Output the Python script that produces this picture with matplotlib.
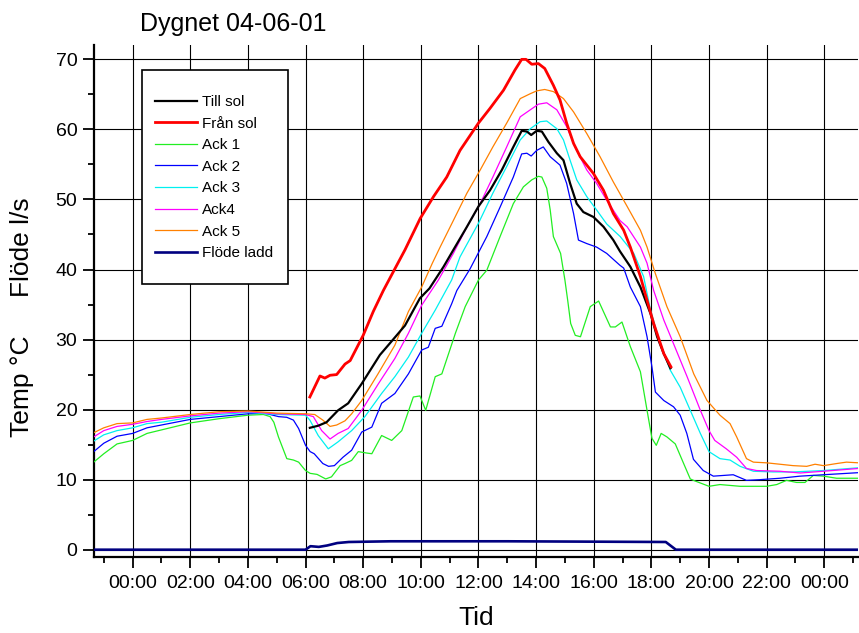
import matplotlib
matplotlib.use("Agg")
import matplotlib.pyplot as plt
from matplotlib.ticker import FixedLocator, MultipleLocator
from matplotlib.patches import Rectangle

plt.rcParams['font.family'] = ['Liberation Sans', 'DejaVu Sans']

# ---------------- data (hours from midnight, values) ----------------
till_t = [6.15, 6.44, 6.73, 7.13, 7.48, 7.95, 8.58, 9.1, 9.45, 9.97, 10.3, 10.79, 11.13,
          11.6, 12.0, 12.4, 12.81, 13.21, 13.5, 13.68, 13.83, 14.02, 14.2, 14.43, 14.72,
          14.95, 15.18, 15.41, 15.64, 15.99, 16.34, 16.68, 16.91, 17.27, 17.62, 17.97,
          18.2, 18.43, 18.66]
till_v = [17.4, 17.7, 18.2, 19.9, 20.9, 23.7, 27.8, 30.3, 32.0, 35.9, 37.3, 40.4, 42.8,
          46.1, 49.0, 51.3, 54.2, 57.5, 59.8, 59.7, 59.2, 59.8, 59.7, 58.2, 56.6,
          55.6, 52.3, 49.4, 48.2, 47.5, 46.1, 44.2, 42.6, 40.4, 37.5, 33.7,
          30.4, 28.0, 25.9]

fran_t = [6.15, 6.5, 6.67, 6.85, 7.08, 7.37, 7.55, 7.7, 8.0, 8.35, 8.7, 9.1, 9.45, 9.98,
          10.44, 10.9, 11.36, 12.0, 12.4, 12.87, 13.27, 13.5, 13.65, 13.85, 14.08, 14.3,
          14.6, 14.83, 15.06, 15.3, 15.53, 15.99, 16.34, 16.68, 17.04, 17.27, 17.62,
          17.85, 18.08, 18.43, 18.68]
fran_v = [21.8, 24.8, 24.5, 24.9, 25.0, 26.5, 27.0, 28.2, 30.6, 34.0, 37.0, 40.1, 42.8, 47.3,
          50.4, 53.2, 57.0, 60.9, 63.0, 65.6, 68.5, 70.0, 70.0, 69.3, 69.4, 68.7,
          66.3, 64.2, 60.9, 58.0, 56.1, 53.7, 51.3, 48.0, 45.6, 43.2, 39.0,
          35.6, 32.3, 28.0, 26.1]

ack1_t = [-1.35, -1.0, -0.54, 0, 0.5, 1, 2, 3, 4, 4.54, 4.77, 4.9, 5.06, 5.35, 5.58, 5.76,
          6.0, 6.16, 6.4, 6.7, 6.9, 7.2, 7.37, 7.6, 7.83, 8.12, 8.3, 8.64, 8.99, 9.34, 9.74,
          9.97, 10.17, 10.5, 10.73, 11.2, 11.54, 12.0, 12.29, 12.75, 13.21, 13.56, 13.85,
          14.08, 14.2, 14.37, 14.49, 14.6, 14.85, 15.0, 15.1, 15.2, 15.36, 15.54, 15.88,
          16.17, 16.58, 16.75, 16.98, 17.27, 17.62, 17.85, 18.02, 18.17, 18.34, 18.54,
          18.83, 19.12, 19.35, 19.46, 20.0, 20.38, 21.08, 22.0, 22.35, 22.69, 23.04, 23.33,
          23.62, 23.97, 24.43, 25.2]
ack1_v = [12.5, 13.7, 15.1, 15.6, 16.6, 17.1, 18.1, 18.7, 19.2, 19.3, 19.0, 18.2, 16.1, 13.0,
          12.8, 12.5, 11.3, 10.9, 10.75, 10.1, 10.4, 12.0, 12.3, 12.75, 14.0, 13.8, 13.7,
          16.3, 15.6, 17.0, 21.8, 21.95, 19.9, 24.7, 25.1, 30.9, 34.7, 38.5, 39.9, 44.7,
          49.4, 51.8, 52.8, 53.3, 53.2, 51.6, 48.5, 44.7, 42.3, 38.5, 35.5, 32.3, 30.6,
          30.4, 34.7, 35.5, 31.8, 31.8, 32.5, 29.0, 25.4, 19.9, 15.9, 14.9, 16.6, 16.1,
          15.1, 12.3, 10.1, 9.9, 9.05, 9.3, 9.05, 9.05, 9.3, 9.9, 9.6, 9.6,
          10.6, 10.5, 10.2, 10.2]

ack2_t = [-1.35, -1.0, -0.54, 0, 0.5, 1, 2, 3, 4, 4.54, 4.77, 5.06, 5.35, 5.58, 5.76, 6.0,
          6.16, 6.3, 6.6, 6.8, 7.0, 7.3, 7.6, 7.95, 8.3, 8.64, 9.1, 9.57, 10.03, 10.26,
          10.5, 10.73, 11.07, 11.25, 11.71, 12.29, 12.75, 13.21, 13.5, 13.68, 13.83, 14.02,
          14.25, 14.49, 14.83, 15.06, 15.3, 15.47, 15.76, 16.1, 16.45, 16.91, 17.04, 17.27,
          17.62, 17.85, 18.02, 18.14, 18.43, 18.77, 19.0, 19.23, 19.46, 19.8, 20.15, 20.5,
          20.84, 21.3, 21.77, 22.46, 23.16, 23.97, 25.2]
ack2_v = [14.0, 15.2, 16.2, 16.6, 17.4, 17.8, 18.6, 19.0, 19.4, 19.5, 19.3, 19.0, 18.9, 18.5,
          17.3, 14.9, 14.0, 13.7, 12.3, 11.9, 12.0, 13.2, 14.2, 16.8, 17.5, 20.9, 22.3,
          25.1, 28.5, 28.9, 31.6, 31.9, 35.1, 37.0, 40.1, 44.7, 48.9, 53.2, 56.5, 56.6,
          56.2, 57.0, 57.5, 56.1, 54.9, 52.3, 48.0, 44.2, 43.7, 43.2, 42.3, 40.6, 40.2,
          37.5, 34.7, 30.4, 26.1, 22.5, 21.3, 20.4, 19.2, 16.6, 12.9, 11.3, 10.5, 10.6,
          10.7, 9.9, 10.0, 10.2, 10.5, 10.7, 11.0]

ack3_t = [-1.35, -1.0, -0.54, 0, 0.5, 1, 2, 3, 4, 5, 6.0, 6.15, 6.44, 6.79, 7.13, 7.6, 8.06,
          8.64, 9.1, 9.57, 10.03, 10.5, 11.07, 11.36, 12.0, 12.5, 12.98, 13.45, 13.8, 14.14,
          14.37, 14.72, 14.95, 15.18, 15.41, 15.76, 16.1, 16.45, 16.92, 17.39, 17.73, 17.97,
          18.31, 18.66, 19.0, 19.35, 19.7, 20.0, 20.38, 20.73, 21.08, 21.54, 22.23, 22.92,
          23.97, 25.2]
ack3_v = [15.5, 16.4, 17.0, 17.4, 18.0, 18.2, 18.9, 19.3, 19.6, 19.3, 19.2, 18.5, 16.3, 14.4,
          15.4, 17.0, 19.0, 22.3, 24.7, 27.5, 30.9, 34.2, 38.5, 41.8, 46.6, 50.9, 54.7,
          58.5, 60.1, 61.1, 61.2, 60.1, 58.5, 55.6, 52.8, 50.4, 48.5, 46.5, 44.7, 42.3,
          39.0, 34.2, 29.4, 25.6, 23.2, 19.9, 16.6, 14.0, 13.0, 12.8, 11.9, 11.2, 11.1,
          11.1, 11.3, 11.7]

ack4_t = [-1.35, -1.0, -0.54, 0, 0.5, 1, 2, 3, 4, 5, 6.0, 6.27, 6.56, 6.85, 7.13, 7.48, 7.95,
          8.53, 9.1, 9.57, 10.03, 10.61, 11.13, 11.6, 12.06, 12.5, 12.98, 13.45, 13.8, 14.08,
          14.37, 14.72, 15.06, 15.41, 15.76, 16.1, 16.45, 16.91, 17.16, 17.62, 17.85, 18.08,
          18.43, 18.77, 19.24, 19.7, 20.0, 20.2, 20.6, 20.96, 21.3, 21.65, 22.46, 23.16,
          23.97, 25.2]
ack4_v = [16.1, 17.0, 17.6, 17.9, 18.3, 18.6, 19.1, 19.5, 19.7, 19.4, 19.3, 19.0, 17.0, 15.8,
          16.6, 17.3, 19.9, 23.7, 27.3, 30.9, 34.9, 38.5, 42.3, 46.1, 49.4, 53.2, 57.5,
          61.8, 62.8, 63.6, 63.8, 62.8, 60.4, 57.0, 54.2, 52.3, 49.9, 47.0, 46.1, 43.2,
          40.9, 37.0, 32.8, 29.4, 24.7, 19.9, 17.0, 15.6, 14.4, 13.2, 11.6, 11.3, 11.2,
          10.95, 11.2, 11.6]

ack5_t = [-1.35, -1.0, -0.54, 0, 0.5, 1, 2, 3, 4, 5, 6.0, 6.32, 6.6, 6.85, 7.08, 7.37, 7.6,
          7.95, 8.5, 9.1, 9.57, 10.03, 10.4, 10.67, 11.13, 11.6, 12.06, 12.5, 12.98, 13.45,
          13.8, 14.02, 14.3, 14.6, 14.95, 15.3, 15.76, 16.22, 16.68, 17.16, 17.62, 17.85,
          18.14, 18.54, 19.0, 19.47, 19.93, 20.38, 20.73, 20.96, 21.3, 21.54, 22.0, 22.46,
          22.92, 23.39, 23.68, 23.97, 24.43, 24.77, 25.2]
ack5_v = [16.7, 17.4, 18.0, 18.1, 18.6, 18.8, 19.3, 19.7, 19.8, 19.5, 19.4, 19.3, 18.5, 17.6,
          17.8, 18.4, 19.4, 21.3, 25.0, 29.2, 34.0, 37.5, 40.9, 43.2, 47.0, 50.9, 54.2,
          57.5, 60.9, 64.4, 65.1, 65.5, 65.7, 65.4, 64.4, 62.5, 59.4, 56.1, 52.5, 49.0,
          45.6, 43.2, 39.4, 34.7, 30.4, 25.1, 21.3, 19.2, 18.0, 16.1, 13.0, 12.5, 12.4,
          12.2, 12.0, 11.9, 12.2, 12.0, 12.3, 12.5, 12.4]

flode_t = [-1.35, 6.0, 6.17, 6.46, 6.75, 7.1, 7.5, 8.95, 13.0, 18.5, 18.85, 25.2]
flode_v = [0, 0, 0.5, 0.4, 0.6, 0.95, 1.1, 1.2, 1.2, 1.1, 0, 0]

x_ticks = [0, 2, 4, 6, 8, 10, 12, 14, 16, 18, 20, 22, 24]
x_tick_labels = ["00:00", "02:00", "04:00", "06:00", "08:00", "10:00", "12:00",
                 "14:00", "16:00", "18:00", "20:00", "22:00", "00:00"]
y_ticks = [0, 10, 20, 30, 40, 50, 60, 70]

# ---------------- figure ----------------
W, H = 859, 633
fig = plt.figure(figsize=(W / 100, H / 100), dpi=100)
ax = fig.add_axes([94 / W, 1 - 556.7 / H, 764 / W, 511.7 / H])

l_till, = ax.plot(till_t, till_v, color='black', lw=1.6, zorder=5, label='Till sol')
l_fran, = ax.plot(fran_t, fran_v, color='#ff0000', lw=2.0, zorder=6, label='Från sol')
l_a1, = ax.plot(ack1_t, ack1_v, color='#22ee22', lw=0.9, zorder=3, label='Ack 1')
l_a2, = ax.plot(ack2_t, ack2_v, color='#0000ff', lw=0.9, zorder=3, label='Ack 2')
l_a3, = ax.plot(ack3_t, ack3_v, color='#00f0f0', lw=0.9, zorder=3, label='Ack 3')
l_a4, = ax.plot(ack4_t, ack4_v, color='#ff00ff', lw=0.9, zorder=3, label='Ack4')
l_a5, = ax.plot(ack5_t, ack5_v, color='#ff8000', lw=0.9, zorder=3, label='Ack 5')
l_fl, = ax.plot(flode_t, flode_v, color='#000080', lw=1.9, zorder=4, label='Flöde ladd')

ax.set_xlim(-1.34, 25.17)
ax.set_ylim(-1.0, 72.05)

ax.xaxis.set_major_locator(FixedLocator(x_ticks))
ax.set_xticklabels(x_tick_labels)
ax.xaxis.set_minor_locator(MultipleLocator(1))
ax.yaxis.set_major_locator(FixedLocator(y_ticks))
ax.yaxis.set_minor_locator(MultipleLocator(5))

ax.grid(which='major', color='black', lw=0.8, zorder=1)
ax.set_axisbelow(True)

for s in ['top', 'right']:
    ax.spines[s].set_visible(False)
for s in ['left', 'bottom']:
    ax.spines[s].set_linewidth(1.6)

ax.tick_params(which='major', direction='out', length=8, width=1.3, labelsize=14)
ax.tick_params(which='minor', direction='out', length=4.5, width=1.3)
ax.tick_params(axis='x', which='major', pad=5)
ax.tick_params(axis='y', which='major', pad=4)

ax.set_xlabel('Tid', fontsize=19, labelpad=10)

fig.text(22 / W, 1 - 247 / H, 'Flöde l/s', rotation=90, fontsize=19,
         ha='center', va='center')
fig.text(22 / W, 1 - 386 / H, 'Temp °C', rotation=90, fontsize=19,
         ha='center', va='center')
fig.text(140 / W, 1 - 24 / H, 'Dygnet 04-06-01', fontsize=18, ha='left', va='center')

# legend frame (box position in axes fraction)
box = Rectangle((0.0624, 0.5329), 0.1919, 0.4182, transform=ax.transAxes,
                facecolor='white', edgecolor='black', lw=1.2, zorder=9)
ax.add_patch(box)

leg = ax.legend(handles=[l_till, l_fran, l_a1, l_a2, l_a3, l_a4, l_a5, l_fl],
                loc='upper left', bbox_to_anchor=(0.0798, 0.9025), borderaxespad=0,
                frameon=False, fontsize=11,
                handlelength=2.75, handletextpad=0.3, borderpad=0, labelspacing=0.5)
leg.set_zorder(10)

fig.savefig('out.png', dpi=100)
